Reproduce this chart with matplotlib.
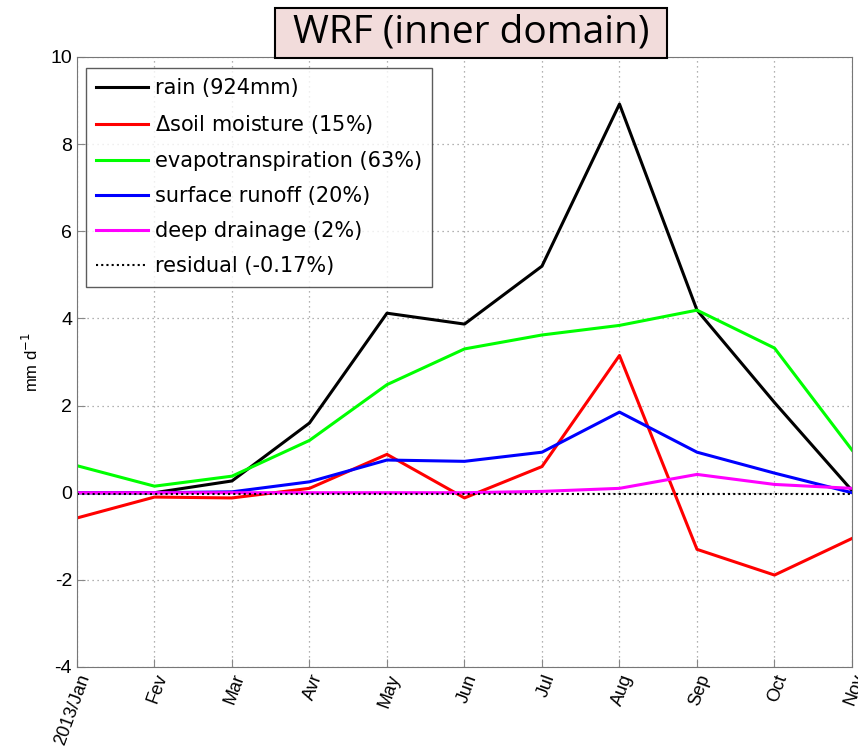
import numpy as np
import matplotlib
matplotlib.use('Agg')
import matplotlib.pyplot as plt
from matplotlib.patches import Rectangle

months = ['2013/Jan', 'Fev', 'Mar', 'Avr', 'May', 'Jun', 'Jul', 'Aug', 'Sep', 'Oct', 'Nov']

rain        = [0.0, 0.0, 0.27, 1.6, 4.12, 3.87, 5.2, 8.92, 4.19, 2.07, 0.05]
soil_moist  = [-0.58, -0.1, -0.12, 0.1, 0.88, -0.12, 0.6, 3.15, -1.3, -1.89, -1.05]
evapo       = [0.62, 0.15, 0.38, 1.2, 2.48, 3.3, 3.62, 3.84, 4.19, 3.32, 0.98]
runoff      = [0.0, 0.0, 0.02, 0.25, 0.75, 0.72, 0.93, 1.85, 0.93, 0.45, 0.0]
drainage    = [0.0, 0.0, 0.0, 0.0, 0.0, 0.0, 0.03, 0.1, 0.42, 0.19, 0.1]
residual    = [-0.02, -0.02, -0.02, -0.02, -0.02, -0.02, -0.02, -0.02, -0.02, -0.02, -0.02]

labels = ['rain (924mm)', r'$\Delta$soil moisture (15%)', 'evapotranspiration (63%)',
          'surface runoff (20%)', 'deep drainage (2%)', 'residual (-0.17%)']

plt.rcParams['font.family'] = ['Liberation Sans', 'DejaVu Sans']
plt.rcParams['axes.unicode_minus'] = False

fig = plt.figure(figsize=(8.58, 7.47), dpi=100)
ax = fig.add_axes([0.0897, 0.1071, 0.9033, 0.8166])

x = np.arange(len(months))
ax.plot(x, rain, color='k', lw=2.2, label=labels[0])
ax.plot(x, soil_moist, color='#ff0000', lw=2.2, label=labels[1])
ax.plot(x, evapo, color='#00ff00', lw=2.2, label=labels[2])
ax.plot(x, runoff, color='#0000ff', lw=2.2, label=labels[3])
ax.plot(x, drainage, color='#ff00ff', lw=2.2, label=labels[4])
ax.plot(x, residual, color='k', lw=1.5, ls=(0, (1, 1.5)), label=labels[5])

ax.set_xlim(0, len(months) - 1)
ax.set_ylim(-4, 10)
ax.set_yticks(np.arange(-4, 11, 2))
ax.set_xticks(x)
ax.set_xticklabels(months, rotation=70, ha='right', va='top', fontsize=13,
                   rotation_mode='anchor')
ax.tick_params(axis='y', labelsize=14, direction='in', length=6, color='#888888')
ax.tick_params(axis='x', direction='in', length=6, color='#888888')
ax.grid(True, ls=(0, (1, 3)), color='#999999', lw=0.9)
for s in ax.spines.values():
    s.set_color('#777777')
ax.set_ylabel(r'mm d$^{-1}$', fontsize=12)
ax.yaxis.set_label_coords(-0.046, 0.5)

leg = ax.legend(loc='upper left', frameon=True, fancybox=False,
                prop={'family': 'DejaVu Sans', 'size': 15},
                bbox_to_anchor=(0.0115, 0.982), borderaxespad=0,
                handlelength=2.5, labelspacing=0.72,
                handletextpad=0.3, borderpad=0.5)
leg.get_frame().set_edgecolor('#333333')
leg.get_frame().set_linewidth(1.0)
leg.set_zorder(5)

# title box
fig.patches.append(Rectangle((0.3205, 0.9224), 0.4569, 0.0669, transform=fig.transFigure,
                             facecolor='#f2dcdb', edgecolor='k', lw=1.5, zorder=10))
fig.text(0.549, 0.956, 'WRF (inner domain)', fontsize=28, family=['Open Sans', 'DejaVu Sans'],
         ha='center', va='center', zorder=11)

plt.savefig('out.png', dpi=100)
